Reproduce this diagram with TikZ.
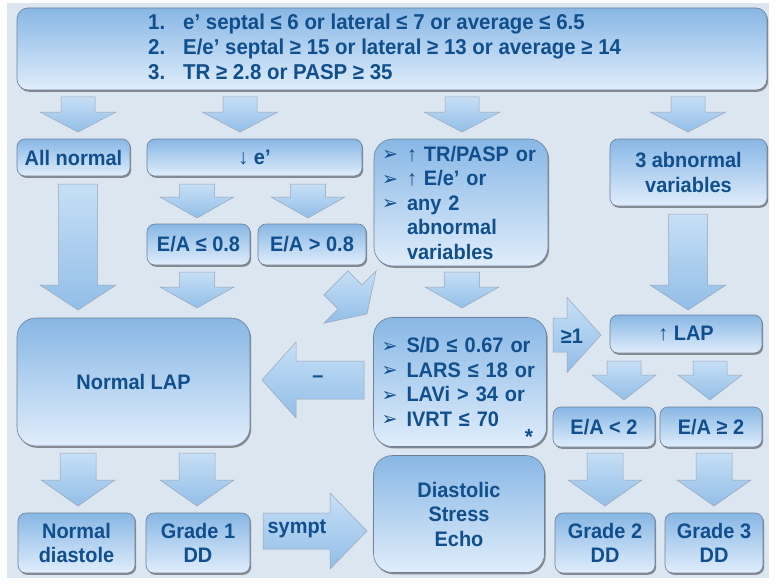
\documentclass[tikz,border=0pt]{standalone}
\usepackage{fontspec}
\setmainfont{Liberation Sans}[FakeStretch=0.95]
\newfontfamily\symfont{DejaVu Sans}
\usetikzlibrary{shadows}
\definecolor{bgc}{RGB}{220,230,241}
\definecolor{txtc}{RGB}{16,78,140}
\definecolor{boxtop}{RGB}{136,183,229}
\definecolor{boxbot}{RGB}{224,237,251}
\definecolor{rimc}{RGB}{110,128,152}
\definecolor{arrtop}{RGB}{198,223,246}
\definecolor{arrbot}{RGB}{146,190,232}
\newcommand\txtfont{\bfseries\fontsize{21}{24.5}\selectfont}
\newcommand\bul{\makebox[25pt][l]{\raisebox{0.5pt}{\symfont\mdseries\fontsize{19}{19}\selectfont ➢}}}
\newcommand\ind{\hspace*{25pt}}
\newcommand\thinarr[1]{{\mdseries #1}}
% down arrow: cx, ytop, yhead, ytip, shaft width, head width
\newcommand\dnarrow[6]{%
  \path[blockarrow] (#1-#5/2,#2) -- (#1+#5/2,#2) -- (#1+#5/2,#3) -- (#1+#6/2,#3)
    -- (#1,#4) -- (#1-#6/2,#3) -- (#1-#5/2,#3) -- cycle;}
% horizontal arrow: cy, xtail, xhead, xtip, shaft height, head height
\newcommand\hzarrow[6]{%
  \path[blockarrow] (#2,#1-#5/2) -- (#3,#1-#5/2) -- (#3,#1-#6/2) -- (#4,#1)
    -- (#3,#1+#6/2) -- (#3,#1+#5/2) -- (#2,#1+#5/2) -- cycle;}
\tikzset{
  box/.style={rounded corners=8pt, top color=boxtop, bottom color=boxbot,
    draw=rimc, line width=0.6pt,
    drop shadow={shadow xshift=1.2pt, shadow yshift=-1.8pt, fill=black!70, opacity=0.6},
    text=txtc, font=\txtfont, align=center, inner sep=2pt},
  bigbox/.style={box, rounded corners=19pt},
  blockarrow/.style={top color=arrtop, bottom color=arrbot, draw=rimc!70, line width=0.5pt},
  lbl/.style={text=txtc, font=\txtfont, inner sep=0pt}
}
\begin{document}
\begin{tikzpicture}[x=1pt,y=-1pt]
\useasboundingbox (0,0) rectangle (777,586);
\fill[white] (0,0) rectangle (777,586);
\fill[bgc] (7,3) rectangle (769,578);

% ---------- block arrows ----------
\dnarrow{78}{97}{112}{132}{34}{76}
\dnarrow{240}{97}{112}{132}{34}{76}
\dnarrow{462}{97}{112}{132}{34}{76}
\dnarrow{688}{97}{112}{132}{34}{76}

\dnarrow{78}{184}{285}{310}{39}{76}
\dnarrow{197}{184}{197}{218}{35}{74}
\dnarrow{308}{184}{197}{218}{35}{74}
\dnarrow{197}{272}{287}{308}{35}{74}
\dnarrow{462}{272}{287}{308}{35}{74}
\dnarrow{688}{214}{285}{310}{39}{76}
\begin{scope}[shift={(350,297)}, rotate=45]
  \dnarrow{0}{-20}{0}{24}{34}{74}
\end{scope}

\hzarrow{380}{364}{296}{262}{38}{76}
\hzarrow{335}{553}{567}{601}{34}{75}
\hzarrow{531}{263}{330}{367}{36}{76}

\dnarrow{624}{361}{375}{400}{34}{64}
\dnarrow{710}{361}{375}{400}{34}{64}

\dnarrow{78}{453}{480}{506}{36}{74}
\dnarrow{197}{453}{480}{506}{36}{74}
\dnarrow{605}{453}{480}{506}{36}{74}
\dnarrow{714}{453}{480}{506}{36}{74}

% ---------- boxes ----------
\node[box, rounded corners=11pt, minimum width=750pt, minimum height=82pt] (top) at (392,49) {};
\node[lbl, anchor=west, align=left, font=\bfseries\fontsize{21.5}{25}\selectfont] (toptext) at (148,47)
  {\makebox[35pt][l]{1.}e’ septal ≤ 6 or lateral ≤ 7 or average ≤ 6.5\\
   \makebox[35pt][l]{2.}E/e’ septal ≥ 15 or lateral ≥ 13 or average ≥ 14\\
   \makebox[35pt][l]{3.}TR ≥ 2.8 or PASP ≥ 35};

\node[box, minimum width=113pt, minimum height=37pt] (allnormal) at (73.5,157.5) {All normal};
\node[box, minimum width=215pt, minimum height=37pt] (edown) at (254.5,157.5) {\thinarr{↓} e’};
\node[bigbox, minimum width=174pt, minimum height=127pt, text width=158pt, align=left, inner xsep=8pt] (trbox) at (461,202.5)
  {\bul\thinarr{↑} TR/PASP or\\ \bul\thinarr{↑} E/e’ or\\ \bul any 2\\ \ind abnormal\\ \ind variables};
\node[box, minimum width=157pt, minimum height=67pt] (abn3) at (688.5,172.5) {3 abnormal\\variables};

\node[box, minimum width=103pt, minimum height=41pt] (ea1) at (198.5,244.5) {E/A ≤ 0.8};
\node[box, minimum width=108pt, minimum height=41pt] (ea2) at (312,244.5) {E/A > 0.8};

\node[bigbox, minimum width=233pt, minimum height=128pt] (nlap) at (133.5,382) {Normal LAP};
\node[bigbox, minimum width=173pt, minimum height=129pt, text width=157pt, align=left, inner xsep=8pt] (sdbox) at (460,382)
  {\bul S/D ≤ 0.67 or\\ \bul LARS ≤ 18 or\\ \bul LAVi > 34 or\\ \bul IVRT ≤ 70};
\node[lbl, font=\bfseries\fontsize{22}{22}\selectfont] (star) at (529,437) {*};
\node[lbl] (minus) at (318,379) {–};
\node[lbl] (ge1) at (572,336) {≥1};

\node[box, minimum width=152pt, minimum height=38pt] (lap) at (686,334) {\thinarr{↑} LAP};
\node[box, minimum width=102pt, minimum height=40pt] (ea3) at (604,427) {E/A < 2};
\node[box, minimum width=102pt, minimum height=40pt] (ea4) at (711,427) {E/A ≥ 2};

\node[box, minimum width=117pt, minimum height=60pt] (ndias) at (76.5,543) {Normal\\diastole};
\node[box, minimum width=104pt, minimum height=60pt] (g1) at (198,543) {Grade 1\\DD};
\node[lbl] (sympt) at (297,529) {sympt};
\node[bigbox, minimum width=171pt, minimum height=117pt] (dse) at (459,514) {Diastolic\\Stress\\Echo};
\node[box, minimum width=100pt, minimum height=60pt] (g2) at (605,543) {Grade 2\\DD};
\node[box, minimum width=98pt, minimum height=60pt] (g3) at (714,543) {Grade 3\\DD};
\end{tikzpicture}
\end{document}
